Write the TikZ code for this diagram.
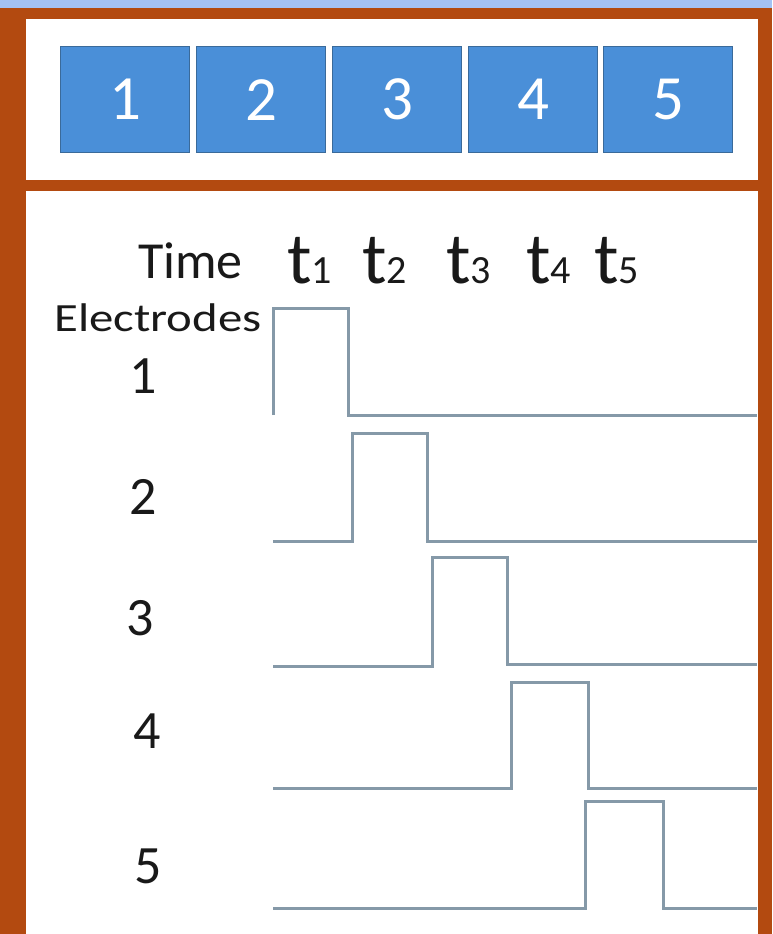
\documentclass[tikz,border=0pt]{standalone}
\usepackage{fontspec}
\setmainfont{Carlito}
\definecolor{topblue}{HTML}{A4C2F4}
\definecolor{frame}{HTML}{B34A10}
\definecolor{boxfill}{HTML}{4A8FD8}
\definecolor{boxline}{HTML}{3A6A9A}
\definecolor{wave}{HTML}{8599A8}
\begin{document}
\begin{tikzpicture}[x=1pt,y=-1pt,
  cell/.style={draw=boxline,line width=1.2pt,fill=boxfill,minimum width=129pt,minimum height=106pt,inner sep=0pt,anchor=north west,text=white,font=\fontsize{63}{63}\selectfont},
  lbl/.style={inner sep=0pt,text=black!90},
  num/.style={lbl,font=\fontsize{54}{54}\selectfont},
  wavepath/.style={draw=wave,line width=3pt,line join=miter}]
\useasboundingbox (0,0) rectangle (772,934);
\fill[frame] (0,0) rectangle (772,934);
\fill[topblue] (0,0) rectangle (772,8);
\fill[white] (26,19) rectangle (758,180);
\fill[white] (26,191) rectangle (758,934);
% boxes
\node[cell] (b1) at (60,46) {1};
\node[cell] (b2) at (196,46) {2};
\node[cell] (b3) at (332,46) {3};
\node[cell] (b4) at (468,46) {4};
\node[cell] (b5) at (603,46) {5};
% labels
\node[lbl,anchor=base west,font=\fontsize{52}{52}\selectfont] (time) at (138,278) {Time};
\node[lbl,anchor=base west] (t1) at (287,283) {\fontsize{73}{73}\selectfont t\fontsize{40}{40}\selectfont 1};
\node[lbl,anchor=base west] (t2) at (362,283) {\fontsize{73}{73}\selectfont t\fontsize{40}{40}\selectfont 2};
\node[lbl,anchor=base west] (t3) at (446,283) {\fontsize{73}{73}\selectfont t\fontsize{40}{40}\selectfont 3};
\node[lbl,anchor=base west] (t4) at (526,283) {\fontsize{73}{73}\selectfont t\fontsize{40}{40}\selectfont 4};
\node[lbl,anchor=base west] (t5) at (594,283) {\fontsize{73}{73}\selectfont t\fontsize{40}{40}\selectfont 5};
\node[lbl,anchor=base west] (el) at (54,331) {\scalebox{1.22}[1]{\fontsize{40}{40}\selectfont Electrodes}};
\node[num] (e1) at (143,376) {1};
\node[num] (e2) at (143,497) {2};
\node[num] (e3) at (140,618) {3};
\node[num] (e4) at (147,731) {4};
\node[num] (e5) at (148,866) {5};
% waveforms
\draw[wavepath] (273,415) -- (273,308) -- (348,308) -- (348,415) -- (757,415);
\draw[wavepath] (273,541) -- (352,541) -- (352,433) -- (427,433) -- (427,541) -- (757,541);
\draw[wavepath] (273,666) -- (432,666) -- (432,557) -- (507,557) -- (507,664) -- (757,664);
\draw[wavepath] (273,788) -- (511,788) -- (511,682) -- (588,682) -- (588,788) -- (757,788);
\draw[wavepath] (273,908) -- (585,908) -- (585,801) -- (663,801) -- (663,908) -- (757,908);
\end{tikzpicture}
\end{document}
